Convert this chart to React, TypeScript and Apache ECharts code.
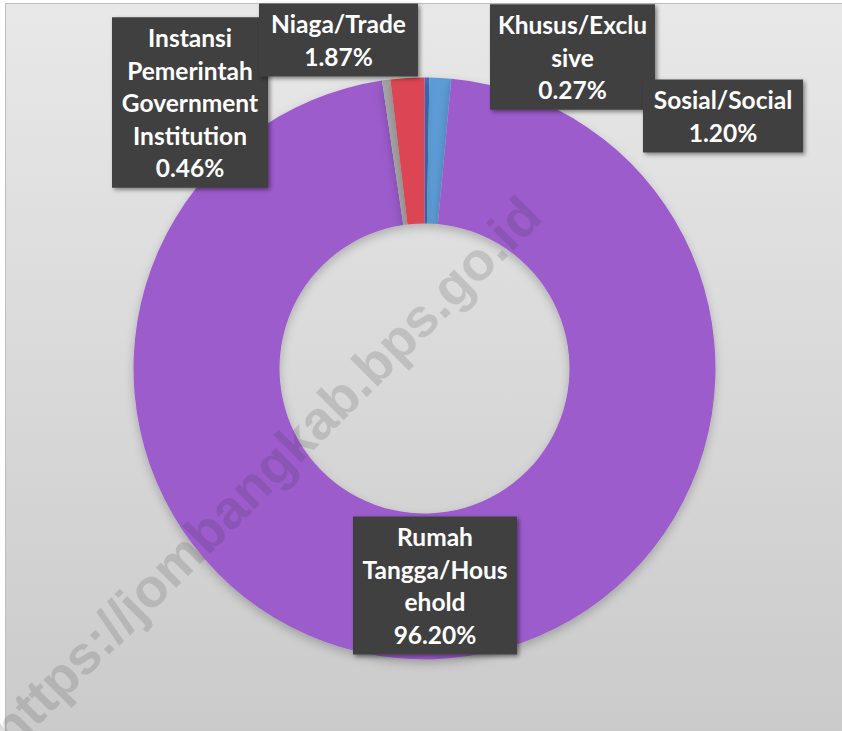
import React, { useEffect, useRef } from 'react';
import * as echarts from 'echarts';

const categories = [
  'Khusus/Exclusive',
  'Sosial/Social',
  'Rumah Tangga/Household',
  'Instansi Pemerintah Government Institution',
  'Niaga/Trade',
];
const labelTexts = [
  'Khusus/Exclu\nsive',
  'Sosial/Social',
  'Rumah\nTangga/Hous\nehold',
  'Instansi\nPemerintah\nGovernment\nInstitution',
  'Niaga/Trade',
];
const values = [0.27, 1.2, 96.2, 0.46, 1.87];
const colors = ['#4472C4', '#5B9BD5', '#9C5CCC', '#A5A5A5', '#DC4453'];
const watermark = 'https://jombangkab.bps.go.id';

// label box placement (center x, center y, box width)
const labelBoxes = [
  { cx: 572.5, cy: 57, w: 165 },
  { cx: 723, cy: 116, w: 160 },
  { cx: 435, cy: 585.5, w: 164 },
  { cx: 190, cy: 102.5, w: 156 },
  { cx: 338.5, cy: 40, w: 159 },
];

export default function App() {
  const ref = useRef<HTMLDivElement>(null);
  useEffect(() => {
    document.body.style.margin = '0';
    const chart = echarts.init(ref.current!, null, { renderer: 'svg' });
    chart.setOption({
      animation: false,
      graphic: [
        {
          type: 'rect',
          z: -10,
          silent: true,
          shape: { x: 5.5, y: 3.5, width: 850, height: 740 },
          style: {
            fill: new echarts.graphic.LinearGradient(0, 0, 0, 1, [
              { offset: 0, color: '#E8E8E8' },
              { offset: 1, color: '#CACACA' },
            ]),
            stroke: '#BDBDBD',
            lineWidth: 1,
          },
        },
        {
          type: 'text',
          z: 100,
          silent: true,
          x: 265,
          y: 472,
          rotation: Math.PI / 4,
          style: {
            text: watermark,
            fontFamily: 'Liberation Sans',
            fontWeight: 'bold',
            fontSize: 54,
            fill: 'rgba(60,60,60,0.17)',
            textAlign: 'center',
            textVerticalAlign: 'middle',
          },
        },
      ],
      series: [
        {
          type: 'pie',
          center: [424.5, 368.5],
          radius: [145, 291],
          startAngle: 90,
          clockwise: true,
          avoidLabelOverlap: false,
          itemStyle: {
            borderWidth: 0,
            shadowBlur: 10,
            shadowColor: 'rgba(0,0,0,0.22)',
            shadowOffsetY: 4,
          },
          labelLine: { show: false },
          label: {
            show: true,
            position: 'outside',
            color: '#FFFFFF',
            fontFamily: 'Lato',
            fontWeight: 'bold',
            fontSize: 24.5,
            lineHeight: 32.5,
            align: 'center',
            overflow: 'none',
            backgroundColor: '#404040',
            padding: [4, 2],
            shadowColor: 'rgba(0,0,0,0.45)',
            shadowBlur: 4,
            shadowOffsetX: 2,
            shadowOffsetY: 2,
            formatter: (p: any) => `${labelTexts[p.dataIndex]}\n${values[p.dataIndex].toFixed(2)}%`,
          },
          labelLayout: (params: any) => {
            const b = labelBoxes[params.dataIndex];
            return { x: b.cx, y: b.cy, align: 'center', verticalAlign: 'middle' };
          },
          data: categories.map((name, i) => ({
            name,
            value: values[i],
            itemStyle: { color: colors[i] },
            label: { width: labelBoxes[i].w - 4 },
          })),
        },
      ],
    });
    return () => chart.dispose();
  }, []);
  return <div ref={ref} style={{ width: 842, height: 731 }} />;
}
